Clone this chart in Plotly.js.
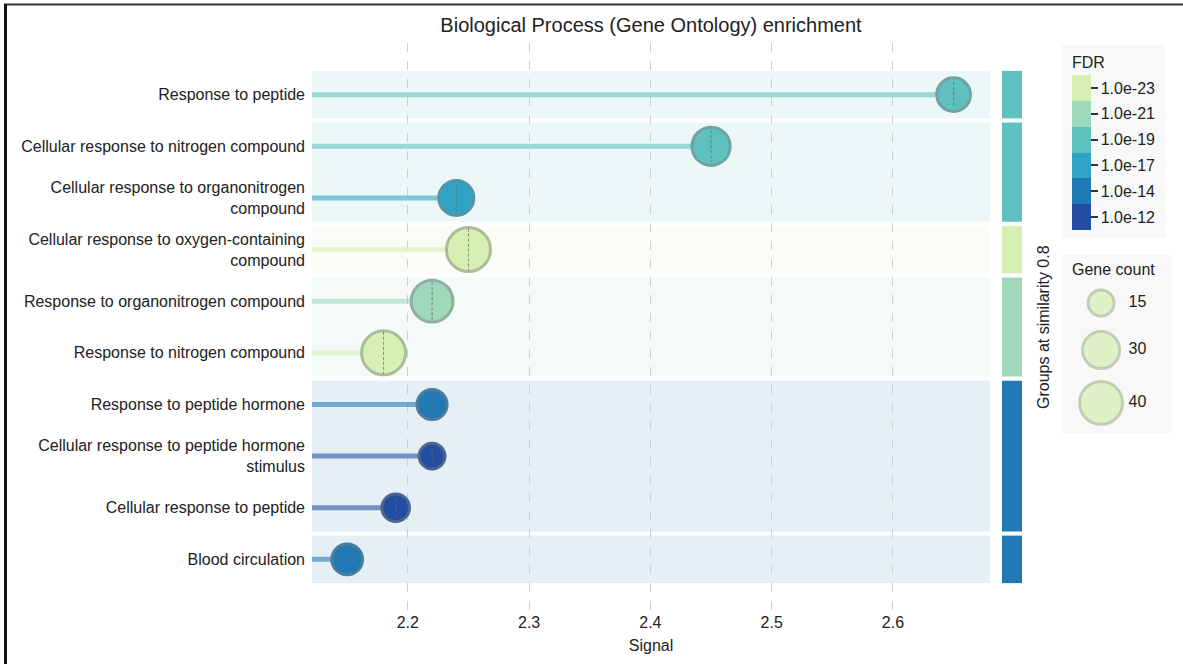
<!DOCTYPE html>
<html>
<head>
<meta charset="utf-8">
<script src="https://cdn.plot.ly/plotly-3.0.1.min.js"></script>
<style>
  html, body { margin: 0; padding: 0; background: #ffffff; }
  #chart { width: 1183px; height: 664px; }
</style>
</head>
<body>
<div id="chart"></div>
<script>
// GO biological process terms, top to bottom
const terms = [
  'Response to peptide',
  'Cellular response to nitrogen compound',
  'Cellular response to organonitrogen<br>compound',
  'Cellular response to oxygen-containing<br>compound',
  'Response to organonitrogen compound',
  'Response to nitrogen compound',
  'Response to peptide hormone',
  'Cellular response to peptide hormone<br>stimulus',
  'Cellular response to peptide',
  'Blood circulation'
];
const signal    = [2.65, 2.45, 2.24, 2.25, 2.22, 2.18, 2.22, 2.22, 2.19, 2.15];
const geneCount = [25, 32, 27, 42, 38, 42, 20, 15, 17, 21];
const fdr = ['1.0e-19', '1.0e-19', '1.0e-17', '1.0e-23', '1.0e-21',
             '1.0e-23', '1.0e-14', '1.0e-12', '1.0e-12', '1.0e-14'];

// similarity groups (index per term) and the FDR colour of each group
const groupOfTerm = [0, 1, 1, 2, 3, 3, 4, 4, 4, 5];
const groupFdr = ['1.0e-19', '1.0e-19', '1.0e-23', '1.0e-21', '1.0e-14', '1.0e-14'];

// FDR colour bins, bottom to top of the colour bar
const fdrLevels = ['1.0e-12', '1.0e-14', '1.0e-17', '1.0e-19', '1.0e-21', '1.0e-23'];
const fdrColors = ['#234da0', '#2079b4', '#2ea3c6', '#5fc0c0', '#9ed9bb', '#d6efb3'];

const legendCounts = [15, 30, 40];
const xTicks = [2.2, 2.3, 2.4, 2.5, 2.6];

// ---- layout constants ----
const W = 1183, H = 664;
const M = { l: 312, r: 10, t: 43, b: 53 };
const plotW = W - M.l - M.r, plotH = H - M.t - M.b;
const xRange = [2.121, 2.68];
const yRange = [terms.length, -1];
const pxPerRow = plotH / (yRange[0] - yRange[1]);
const px = v => v / plotW;            // horizontal pixels -> paper
const py = v => 1 - (v - M.t) / plotH; // absolute y pixel -> paper
const RING = 3;

function hexToRgb(h) {
  return [1, 3, 5].map(i => parseInt(h.substr(i, 2), 16));
}
function rgba(h, a) { const c = hexToRgb(h); return `rgba(${c[0]},${c[1]},${c[2]},${a})`; }
function ringColor(h) {
  const c = hexToRgb(h).map(v => Math.round(v + (128 - v) * 0.47));
  return `rgb(${c[0]},${c[1]},${c[2]})`;
}
const binOf = label => fdrLevels.indexOf(label);
const markerSize = n => 6.94 * Math.sqrt(n) - 1;

const rows = terms.map((_, i) => i);
const bins = fdr.map(binOf);
const fills = bins.map(b => fdrColors[b]);

// stepped colour scale, one flat band per FDR level
const colorscale = [];
fdrColors.forEach((c, i) => {
  colorscale.push([i / fdrColors.length, c]);
  colorscale.push([(i + 1) / fdrColors.length, c]);
});

const traces = [];

// lollipop stems
rows.forEach(i => {
  traces.push({
    type: 'scatter', mode: 'lines',
    x: [xRange[0], signal[i]], y: [i, i],
    line: { color: rgba(fills[i], 0.58), width: 5 },
    hoverinfo: 'skip', showlegend: false
  });
});

// bubbles
traces.push({
  type: 'scatter', mode: 'markers',
  x: signal, y: rows,
  text: terms,
  marker: {
    size: geneCount.map(markerSize),
    color: bins,
    cmin: -0.5, cmax: fdrLevels.length - 0.5,
    colorscale: colorscale,
    line: { color: fills.map(ringColor), width: RING },
    opacity: 1,
    showscale: true,
    colorbar: {
      title: { text: 'FDR', side: 'top', font: { size: 16, color: '#222' } },
      tickvals: fdrLevels.map((_, i) => i),
      ticktext: fdrLevels,
      tickfont: { size: 16, color: '#222' },
      ticks: 'outside', ticklen: 7, tickcolor: '#333', tickwidth: 1.5,
      outlinewidth: 0,
      thickness: 19,
      lenmode: 'pixels', len: 193,
      x: 0.871, xanchor: 'left', xref: 'paper',
      y: py(45), yanchor: 'top', yref: 'paper',
      xpad: 10, ypad: 8,
      bgcolor: '#f8f8f8'
    }
  },
  hovertemplate: '%{text}<br>Signal %{x}<extra></extra>',
  showlegend: false
});

// dashed centre line inside each bubble, length follows the gene count
const dx = [], dy = [];
rows.forEach(i => {
  const half = geneCount[i] / 2 / pxPerRow;
  dx.push(signal[i], signal[i], null);
  dy.push(i - half, i + half, null);
});
traces.push({
  type: 'scatter', mode: 'lines', x: dx, y: dy,
  line: { color: 'rgba(105,105,105,0.75)', width: 1, dash: '3px,2px' },
  hoverinfo: 'skip', showlegend: false
});

// gene count key, drawn on its own small axes
const keyColor = fdrColors[fdrColors.length - 1];
traces.push({
  type: 'scatter', mode: 'markers',
  x: legendCounts.map(() => 0.355),
  y: [0.73, 0.466, 0.169],
  xaxis: 'x3', yaxis: 'y3',
  marker: {
    size: legendCounts.map(markerSize),
    color: keyColor,
    line: { color: ringColor(keyColor), width: RING }
  },
  hoverinfo: 'skip', showlegend: false
});
traces.push({
  type: 'scatter', mode: 'text',
  x: legendCounts.map(() => 0.605),
  y: [0.73, 0.466, 0.169],
  xaxis: 'x3', yaxis: 'y3',
  text: legendCounts.map(String),
  textposition: 'middle right',
  textfont: { size: 16, color: '#222' },
  hoverinfo: 'skip', showlegend: false
});

// background bands and group bars
const shapes = [];
const groupCount = groupFdr.length;
for (let g = 0; g < groupCount; g++) {
  const members = rows.filter(i => groupOfTerm[i] === g);
  const y0 = Math.min(...members) - 0.46, y1 = Math.max(...members) + 0.46;
  const col = fdrColors[binOf(groupFdr[g])];
  shapes.push({
    type: 'rect', layer: 'below', xref: 'x', yref: 'y',
    x0: xRange[0], x1: xRange[1], y0: y0, y1: y1,
    fillcolor: rgba(col, 0.12), line: { width: 0 }
  });
  shapes.push({
    type: 'rect', layer: 'below', xref: 'paper', yref: 'y',
    x0: px(690), x1: px(710), y0: y0, y1: y1,
    fillcolor: col, line: { width: 0 }
  });
}
// key box behind gene count
shapes.push({
  type: 'rect', layer: 'below', xref: 'paper', yref: 'paper',
  x0: px(750), x1: px(860), y0: py(433), y1: py(255),
  fillcolor: '#f8f8f8', line: { width: 0 }
});
// outer frame (top and left edges)
shapes.push({
  type: 'line', xref: 'paper', yref: 'paper',
  x0: px(4 - M.l), x1: px(W - M.l), y0: py(4.5), y1: py(4.5),
  line: { color: '#333', width: 2 }
});
shapes.push({
  type: 'line', xref: 'paper', yref: 'paper',
  x0: px(5.5 - M.l), x1: px(5.5 - M.l), y0: py(4), y1: py(H),
  line: { color: '#111', width: 3 }
});

const layout = {
  width: W, height: H,
  margin: M,
  paper_bgcolor: '#ffffff', plot_bgcolor: '#ffffff',
  font: { family: 'Liberation Sans, Arial, sans-serif', color: '#222', size: 16 },
  title: {
    text: 'Biological Process (Gene Ontology) enrichment',
    font: { size: 20, color: '#222' },
    xref: 'paper', x: px(339), xanchor: 'center',
    yref: 'container', y: 1 - 25 / H, yanchor: 'middle'
  },
  xaxis: {
    domain: [0, px(678)],
    range: xRange,
    tickvals: xTicks,
    ticktext: xTicks.map(v => v.toFixed(1)),
    tickfont: { size: 16, color: '#222' },
    showgrid: true, gridcolor: '#cfcfcf', griddash: 'dash', gridwidth: 1,
    zeroline: false, showline: false, ticks: '',
    title: { text: 'Signal', font: { size: 16, color: '#222' }, standoff: 9 }
  },
  yaxis: {
    range: yRange,
    tickvals: rows, ticktext: terms,
    tickfont: { size: 16, color: '#222' },
    ticklabelstandoff: 6,
    showgrid: false, zeroline: false, showline: false, ticks: ''
  },
  xaxis3: {
    domain: [px(750), px(860)], range: [0, 1], anchor: 'y3',
    visible: false, fixedrange: true
  },
  yaxis3: {
    domain: [py(433), py(255)], range: [0, 1], anchor: 'x3',
    visible: false, fixedrange: true
  },
  shapes: shapes,
  annotations: [
    {
      text: 'Groups at similarity 0.8', textangle: -90,
      xref: 'paper', yref: 'paper', x: px(731), y: 0.5,
      xanchor: 'center', yanchor: 'middle', showarrow: false,
      font: { size: 16, color: '#222' }
    },
    {
      text: 'Gene count',
      xref: 'paper', yref: 'paper', x: px(801), y: py(269),
      xanchor: 'center', yanchor: 'middle', showarrow: false,
      font: { size: 16, color: '#222' }
    }
  ],
  showlegend: false,
  hovermode: 'closest'
};

Plotly.newPlot('chart', traces, layout, { displayModeBar: false, responsive: false });
</script>
</body>
</html>
